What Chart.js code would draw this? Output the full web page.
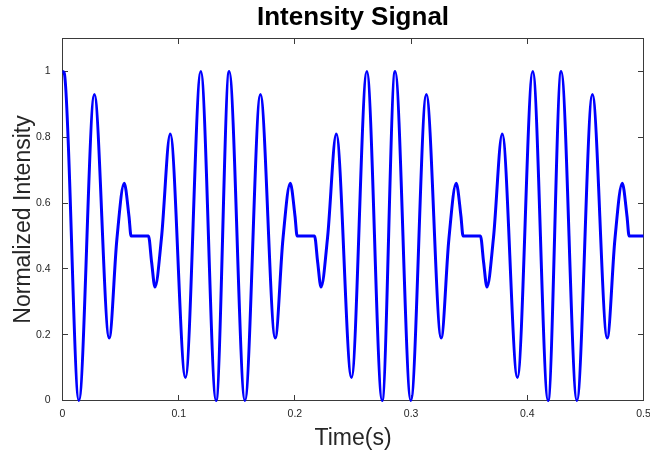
<!DOCTYPE html>
<html>
<head>
<meta charset="utf-8">
<title>Intensity Signal</title>
<script src="https://cdn.jsdelivr.net/npm/chart.js@4.4.1/dist/chart.umd.min.js"></script>
<style>
  body { margin: 0; background: #fff; }
  #wrap { width: 650px; height: 452px; }
</style>
</head>
<body>
<div id="wrap"><canvas id="intensityChart" width="650" height="452"></canvas></div>
<script>
// values (peaks, troughs, kinks, flat parts)
const timeSec = [
    0.0000, 0.0015, 0.0141, 0.0274, 0.0402, 0.0468, 0.0531, 0.0572, 0.0590, 0.0740, 0.0767, 0.0796, 0.0852, 0.0927, 0.1058, 0.1190, 0.1322,
    0.1434, 0.1570, 0.1703, 0.1831, 0.1897, 0.1960, 0.2001, 0.2019, 0.2169, 0.2196, 0.2225, 0.2281, 0.2356, 0.2487, 0.2619, 0.2751,
    0.2862, 0.2998, 0.3131, 0.3259, 0.3325, 0.3388, 0.3429, 0.3447, 0.3597, 0.3624, 0.3653, 0.3709, 0.3784, 0.3915, 0.4047, 0.4179,
    0.4291, 0.4427, 0.4560, 0.4688, 0.4754, 0.4817, 0.4858, 0.4876, 0.5000
];
const intensity = [
    1.00, 0.995, 0.00, 0.93, 0.19, 0.49, 0.66, 0.56, 0.50, 0.50, 0.42, 0.345, 0.495, 0.81, 0.07, 1.00, 0.00,
    1.00, 0.00, 0.93, 0.19, 0.49, 0.66, 0.56, 0.50, 0.50, 0.42, 0.345, 0.495, 0.81, 0.07, 1.00, 0.00,
    1.00, 0.00, 0.93, 0.19, 0.49, 0.66, 0.56, 0.50, 0.50, 0.42, 0.345, 0.495, 0.81, 0.07, 1.00, 0.00,
    1.00, 0.00, 0.93, 0.19, 0.49, 0.66, 0.56, 0.50, 0.50
];
const xTicks = [0, 0.1, 0.2, 0.3, 0.4, 0.5];
const yTicks = [0, 0.2, 0.4, 0.6, 0.8, 1];

const axisColor = "#262626";
const fontFamily = "'Liberation Sans', Arial, Helvetica, sans-serif";

// matlab style box with ticks pointing inwards on all four sides
const boxPlugin = {
    id: "matlabBox",
    beforeDatasetsDraw(chart) {
        const { ctx, chartArea: a, scales: { x, y } } = chart;
        const len = 5.5;
        ctx.save();
        ctx.strokeStyle = "#3a3a3a";
        ctx.lineWidth = 1;
        ctx.strokeRect(a.left, a.top, a.right - a.left, a.bottom - a.top);
        ctx.beginPath();
        xTicks.forEach(v => {
            const px = Math.floor(x.getPixelForValue(v)) + 0.5;
            ctx.moveTo(px, a.bottom); ctx.lineTo(px, a.bottom - len);
            ctx.moveTo(px, a.top); ctx.lineTo(px, a.top + len);
        });
        yTicks.forEach(v => {
            const py = Math.floor(y.getPixelForValue(v)) + 0.5;
            ctx.moveTo(a.left, py); ctx.lineTo(a.left + len, py);
            ctx.moveTo(a.right, py); ctx.lineTo(a.right - len, py);
        });
        ctx.stroke();
        ctx.restore();
    }
};

const ctx = document.getElementById("intensityChart").getContext("2d");
new Chart(ctx, {
    type: "line",
    data: {
        datasets: [{
            data: timeSec.map((t, i) => ({ x: t, y: intensity[i] })),
            borderColor: "#0000ff",
            borderWidth: 3,
            pointRadius: 0,
            fill: false,
            cubicInterpolationMode: "monotone",
            clip: 2
        }]
    },
    options: {
        responsive: false,
        animation: false,
        devicePixelRatio: 1,
        layout: { padding: { left: 0, right: 6.5, top: 0, bottom: 0 } },
        plugins: {
            legend: { display: false },
            tooltip: { enabled: false },
            title: {
                display: true,
                fullSize: false,
                text: "Intensity Signal",
                color: "#000",
                font: { family: fontFamily, size: 26, weight: "bold" },
                padding: { top: 2, bottom: 5.3 }
            }
        },
        scales: {
            x: {
                type: "linear",
                min: 0,
                max: 0.5,
                grid: { display: false, drawTicks: false },
                border: { display: false },
                afterBuildTicks: s => { s.ticks = xTicks.map(v => ({ value: v })); },
                ticks: {
                    padding: 7,
                    color: axisColor,
                    maxRotation: 0,
                    autoSkip: false,
                    font: { family: fontFamily, size: 10.5 },
                    callback: v => +v.toFixed(1)
                },
                title: {
                    display: true,
                    text: "Time(s)",
                    color: axisColor,
                    font: { family: fontFamily, size: 23 },
                    padding: { top: 0, bottom: 0 }
                },
                afterFit(s) { s.height = 51.5; s.paddingLeft = 0; s.paddingRight = 0; }
            },
            y: {
                type: "linear",
                min: 0,
                max: 1.1,
                grid: { display: false, drawTicks: false },
                border: { display: false },
                afterBuildTicks: s => { s.ticks = yTicks.map(v => ({ value: v })); },
                ticks: {
                    padding: 12,
                    color: axisColor,
                    font: { family: fontFamily, size: 10.5 },
                    callback: v => +v.toFixed(1)
                },
                title: {
                    display: true,
                    text: "Normalized Intensity",
                    color: axisColor,
                    font: { family: fontFamily, size: 23 },
                    padding: { top: 10, bottom: 0 }
                },
                afterFit(s) { s.width = 62.5; s.paddingTop = 0; s.paddingBottom = 0; }
            }
        }
    },
    plugins: [boxPlugin]
});
</script>
</body>
</html>
